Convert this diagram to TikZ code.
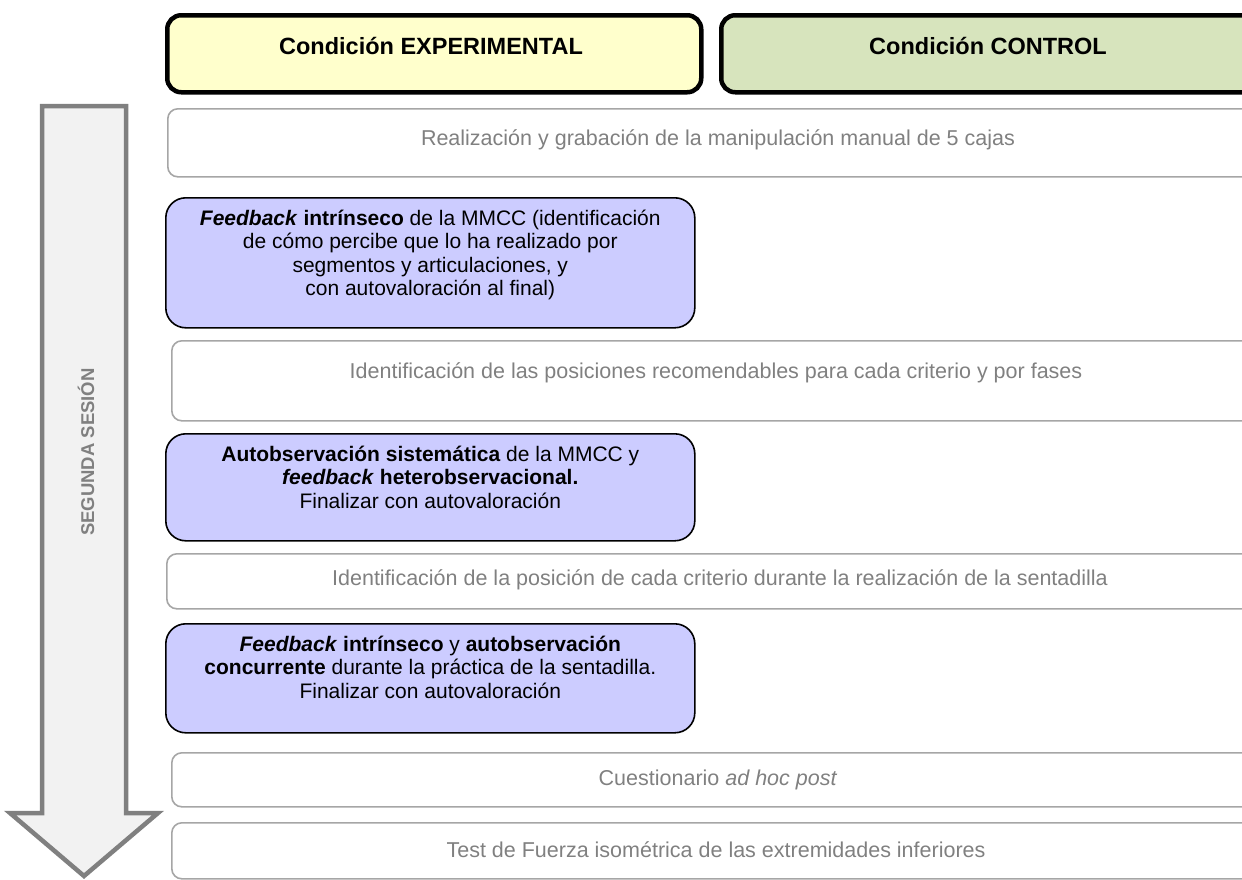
\documentclass[tikz,border=0pt]{standalone}
\usepackage{fontspec}
\setmainfont{Liberation Sans}
% fixed-height strut so that every task text starts at the same depth below its box top
\newcommand{\firstline}{\rule{0pt}{20pt}}
\begin{document}
\begin{tikzpicture}[x=1pt,y=-1pt,
  headbox/.style={draw=black,line width=4.5pt,rounded corners=14pt,anchor=north west,inner sep=0pt},
  headtext/.style={anchor=base,font=\fontsize{23.5}{28}\selectfont\bfseries},
  stagebox/.style={draw=black!35!white,line width=1.6pt,rounded corners=10pt,anchor=north west,inner sep=0pt},
  stagetext/.style={text=black!50,font=\fontsize{21.5}{25}\selectfont},
  taskbox/.style={draw=black,line width=1.6pt,fill=taskfill,rounded corners=20pt,anchor=north west,inner sep=0pt},
  tasktext/.style={anchor=north,inner sep=0pt,yshift=-8pt,align=center,font=\fontsize{21}{23.5}\selectfont},
]
\definecolor{expfill}{HTML}{FFFFCC}
\definecolor{ctrlfill}{HTML}{D7E4BD}
\definecolor{taskfill}{HTML}{CCCCFF}
\definecolor{arrowfill}{HTML}{F2F2F2}
\definecolor{arrowline}{HTML}{808080}
\useasboundingbox (0,0) rectangle (1242,879);
\clip (0,0) rectangle (1242,879);

% time arrow on the left
\draw[draw=arrowline,fill=arrowfill,line width=4.5pt,line join=miter]
  (42,106) -- (126,106) -- (126,813) -- (158,813) -- (84,876) -- (10,813) -- (42,813) -- cycle;
\node[rotate=90,text=arrowline,font=\fontsize{18.5}{22}\selectfont\bfseries] (sesion) at (86,452) {SEGUNDA SESIÓN};

% column headers
\node[headbox,fill=expfill,minimum width=534pt,minimum height=77pt] (exp) at (165,13) {};
\node[headtext] (exptxt) at (431,54) {Condición EXPERIMENTAL};
\node[headbox,fill=ctrlfill,minimum width=560pt,minimum height=77pt] (ctrl) at (719,13) {};
\node[headtext] (ctrltxt) at (988,54) {Condición CONTROL};

% common stages (spanning both conditions)
\node[stagebox,minimum width=1110pt,minimum height=68pt] (s1) at (167,108) {};
\node[stagetext] (s1t) at (718,140) {Realización y grabación de la manipulación manual de 5 cajas};

\node[stagebox,minimum width=1110pt,minimum height=80pt] (s2) at (171,340) {};
\node[stagetext] (s2t) at (716,373) {Identificación de las posiciones recomendables para cada criterio y por fases};

\node[stagebox,minimum width=1110pt,minimum height=55pt] (s3) at (166,553) {};
\node[stagetext] (s3t) at (720,580) {Identificación de la posición de cada criterio durante la realización de la sentadilla};

\node[stagebox,minimum width=1110pt,minimum height=54pt] (s4) at (171,752) {};
\node[stagetext] (s4t) at (718,780) {Cuestionario \textit{ad hoc post}};

\node[stagebox,minimum width=1110pt,minimum height=56pt] (s5) at (171,822) {};
\node[stagetext] (s5t) at (716,850) {Test de Fuerza isométrica de las extremidades inferiores};

% experimental-only tasks
\node[taskbox,minimum width=529pt,minimum height=130pt] (t1) at (165,197) {};
\node[tasktext] (t1t) at (t1.north) {\firstline\textbf{\textit{Feedback} intrínseco} de la MMCC (identificación\\de cómo percibe que lo ha realizado por\\segmentos y articulaciones, y\\con autovaloración al final)};

\node[taskbox,minimum width=529pt,minimum height=107pt] (t2) at (165,433) {};
\node[tasktext] (t2t) at (t2.north) {\firstline\textbf{Autobservación sistemática} de la MMCC y\\\textbf{\textit{feedback} heterobservacional.}\\Finalizar con autovaloración};

\node[taskbox,minimum width=529pt,minimum height=109pt] (t3) at (165,623) {};
\node[tasktext] (t3t) at (t3.north) {\firstline\textbf{\textit{Feedback} intrínseco} y \textbf{autobservación}\\\textbf{concurrente} durante la práctica de la sentadilla.\\Finalizar con autovaloración};
\end{tikzpicture}
\end{document}
